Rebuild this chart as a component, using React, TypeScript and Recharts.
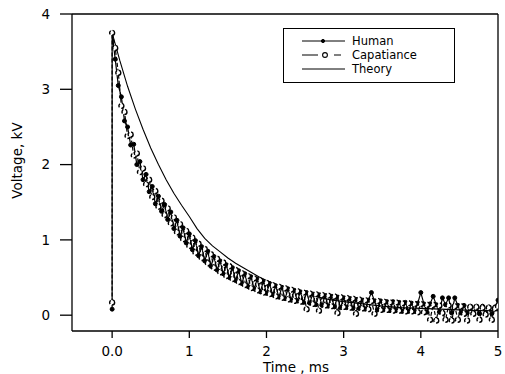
import React from 'react';
import { LineChart, Line, XAxis, YAxis, ReferenceLine } from 'recharts';

// Sampling step of the measured traces (ms)
const STEP = 0.04;

// Start of each trace (t = 0): baseline reading, then the peak
const HUMAN_START = [0.08, 3.75];
const CAP_START = [0.17, 3.75];

// Measured voltages (kV) at t = 0.04, 0.08, ... 5.00 ms
const HUMAN = [
  3.40, 3.05, 2.90, 2.58, 2.50, 2.26, 2.27, 2.00, 2.04, 1.80,
  1.87, 1.64, 1.71, 1.48, 1.58, 1.38, 1.47, 1.27, 1.37, 1.15,
  1.26, 1.05, 1.16, 0.96, 1.08, 0.87, 0.99, 0.79, 0.91, 0.72,
  0.85, 0.65, 0.78, 0.60, 0.72, 0.55, 0.67, 0.50, 0.63, 0.46,
  0.59, 0.42, 0.55, 0.38, 0.51, 0.35, 0.48, 0.31, 0.45, 0.29,
  0.42, 0.27, 0.39, 0.24, 0.37, 0.22, 0.35, 0.20, 0.33, 0.19,
  0.31, 0.17, 0.30, 0.16, 0.28, 0.14, 0.27, 0.13, 0.26, 0.12,
  0.25, 0.11, 0.24, 0.10, 0.23, 0.10, 0.22, 0.09, 0.21, 0.09,
  0.20, 0.08, 0.20, 0.30, 0.19, 0.07, 0.19, 0.07, 0.18, 0.06,
  0.18, 0.06, 0.17, 0.05, 0.17, 0.05, 0.16, 0.05, 0.16, 0.30,
  0.15, 0.04, 0.15, 0.25, 0.14, 0.04, 0.23, 0.14, 0.23, 0.03,
  0.23, 0.13, 0.03, 0.13, 0.03, 0.12, 0.03, 0.12, 0.02, 0.12,
  0.02, 0.11, 0.02, 0.11, 0.20,
];

const CAPACITANCE = [
  3.55, 3.22, 2.78, 2.70, 2.38, 2.40, 2.12, 2.15, 1.90, 1.95,
  1.74, 1.80, 1.57, 1.65, 1.44, 1.52, 1.33, 1.42, 1.22, 1.30,
  1.10, 1.21, 1.01, 1.12, 0.92, 1.03, 0.83, 0.95, 0.76, 0.88,
  0.69, 0.81, 0.63, 0.75, 0.57, 0.70, 0.52, 0.65, 0.48, 0.60,
  0.44, 0.56, 0.40, 0.52, 0.36, 0.49, 0.33, 0.46, 0.30, 0.43,
  0.28, 0.40, 0.25, 0.38, 0.23, 0.36, 0.21, 0.34, 0.19, 0.32,
  0.18, 0.30, 0.08, 0.29, 0.15, 0.28, 0.06, 0.27, 0.13, 0.26,
  0.12, 0.25, 0.03, 0.24, 0.11, 0.23, 0.10, 0.22, 0.02, 0.21,
  0.09, 0.20, 0.08, 0.19, 0.02, 0.19, 0.07, 0.18, 0.07, 0.17,
  0.06, 0.17, 0.06, 0.16, 0.05, 0.16, 0.05, 0.15, 0.04, 0.15,
  0.04, 0.14, -0.06, 0.14, -0.07, 0.13, 0.03, -0.06, 0.13, -0.07,
  0.12, -0.06, 0.12, 0.02, -0.07, 0.11, 0.02, 0.11, -0.06, 0.10,
  0.01, 0.10, -0.06, 0.09, 0.12,
];

// Theory curve
const THEORY_T = [
  0, 0.1, 0.2, 0.3, 0.4, 0.5, 0.6, 0.7, 0.8, 0.9, 1.0, 1.1, 1.2, 1.3, 1.4,
  1.5, 1.6, 1.7, 1.8, 1.9, 2.0, 2.2, 2.4, 2.6, 2.8, 3.0, 3.25, 3.5, 3.75,
  4.0, 4.25, 4.5, 4.75, 5.0,
];
const THEORY_V = [
  3.75, 3.38, 3.04, 2.74, 2.47, 2.22, 2.0, 1.8, 1.62, 1.46, 1.31, 1.15, 1.02,
  0.92, 0.84, 0.76, 0.69, 0.63, 0.57, 0.51, 0.46, 0.38, 0.31, 0.26, 0.21, 0.18,
  0.15, 0.12, 0.1, 0.09, 0.08, 0.07, 0.06, 0.06,
];

const X_TICKS = [0, 1, 2, 3, 4, 5];
const Y_TICKS = [0, 1, 2, 3, 4];

const FONT = '"DejaVu Sans", "Liberation Sans", Arial, sans-serif';

const buildTrace = (start: number[], vals: number[]) => [
  ...start.map((v) => ({ t: 0, v })),
  ...vals.map((v, i) => ({ t: +(STEP * (i + 1)).toFixed(2), v })),
];

const humanData = buildTrace(HUMAN_START, HUMAN);
const capData = buildTrace(CAP_START, CAPACITANCE);
const theoryData = THEORY_T.map((t, i) => ({ t, v: THEORY_V[i] }));

const YLabel = (props: any) => {
  const vb = props.viewBox || {};
  const cx = (vb.x ?? 0) + 17;
  const cy = (vb.y ?? 0) + (vb.height ?? 0) / 2 - 12;
  return (
    <text
      x={cx}
      y={cy}
      transform={`rotate(-90, ${cx}, ${cy})`}
      textAnchor="middle"
      dominantBaseline="central"
      fontFamily={FONT}
      fontSize={13.5}
      fill="#000"
    >
      Voltage, kV
    </text>
  );
};

const XLabel = (props: any) => {
  const vb = props.viewBox || {};
  const cx = (vb.x ?? 0) + (vb.width ?? 0) / 2 + 11;
  const cy = (vb.y ?? 0) + 41;
  return (
    <text x={cx} y={cy} textAnchor="middle" fontFamily={FONT} fontSize={13.5} fill="#000">
      Time , ms
    </text>
  );
};

const LegendBox = () => (
  <div
    style={{
      position: 'absolute',
      left: 283,
      top: 28,
      border: '1px solid #000',
      width: 172,
      height: 55,
      boxSizing: 'border-box',
      background: '#fff',
    }}
  >
    <svg width={170} height={53} style={{ display: 'block' }}>
      <g fontFamily={FONT} fontSize={11.5} fill="#000">
        <line x1={18} x2={61} y1={12} y2={12} stroke="#000" strokeWidth={1} />
        <circle cx={39} cy={12} r={1.6} fill="#000" stroke="#000" />
        <text x={68} y={12} dominantBaseline="central">Human</text>

        <line x1={18} x2={34} y1={26} y2={26} stroke="#000" strokeWidth={1} />
        <circle cx={41} cy={26} r={2.4} fill="#fff" stroke="#000" strokeWidth={1.1} />
        <line x1={50} x2={57} y1={26} y2={26} stroke="#000" strokeWidth={1} />
        <text x={68} y={26} dominantBaseline="central">Capatiance</text>

        <line x1={18} x2={61} y1={40} y2={40} stroke="#000" strokeWidth={1} />
        <text x={68} y={40} dominantBaseline="central">Theory</text>
      </g>
    </svg>
  </div>
);

export default function App() {
  return (
    <div style={{ position: 'absolute', left: 0, top: 0, width: 505, height: 374, background: '#fff' }}>
      <LineChart width={505} height={374} margin={{ top: 14, right: 7, bottom: 0, left: 0 }}>
        <XAxis
          type="number"
          dataKey="t"
          domain={[-0.52, 5]}
          ticks={X_TICKS}
          allowDataOverflow
          height={43}
          tickSize={7}
          tickMargin={8}
          tickFormatter={(v: number) => (v === 0 ? '0.0' : String(v))}
          tick={{ fill: '#000', fontSize: 13.5, fontFamily: FONT }}
          axisLine={{ stroke: '#000', strokeWidth: 1.3 }}
          tickLine={{ stroke: '#000', strokeWidth: 1.3 }}
          label={<XLabel />}
        />
        <YAxis
          type="number"
          dataKey="v"
          domain={[-0.21, 4]}
          ticks={Y_TICKS}
          allowDataOverflow
          width={72}
          tickSize={12}
          tickMargin={10}
          tick={{ fill: '#000', fontSize: 13.5, fontFamily: FONT }}
          axisLine={{ stroke: '#000', strokeWidth: 1.3 }}
          tickLine={{ stroke: '#000', strokeWidth: 1.3 }}
          label={<YLabel />}
        />
        <ReferenceLine y={4} stroke="#000" strokeWidth={1.3} />
        <ReferenceLine x={5} stroke="#000" strokeWidth={1.3} />
        <Line
          data={theoryData}
          dataKey="v"
          name="Theory"
          type="linear"
          stroke="#000"
          strokeWidth={1.1}
          dot={false}
          isAnimationActive={false}
        />
        <Line
          data={humanData}
          dataKey="v"
          name="Human"
          type="linear"
          stroke="#000"
          strokeWidth={1.2}
          dot={{ r: 2, fill: '#000', stroke: '#000', strokeWidth: 1 }}
          isAnimationActive={false}
        />
        <Line
          data={capData}
          dataKey="v"
          name="Capatiance"
          type="linear"
          stroke="#000"
          strokeWidth={1.2}
          strokeDasharray="4 2"
          dot={{ r: 2.5, fill: '#fff', stroke: '#000', strokeWidth: 1.4 }}
          isAnimationActive={false}
        />
      </LineChart>
      <LegendBox />
    </div>
  );
}
